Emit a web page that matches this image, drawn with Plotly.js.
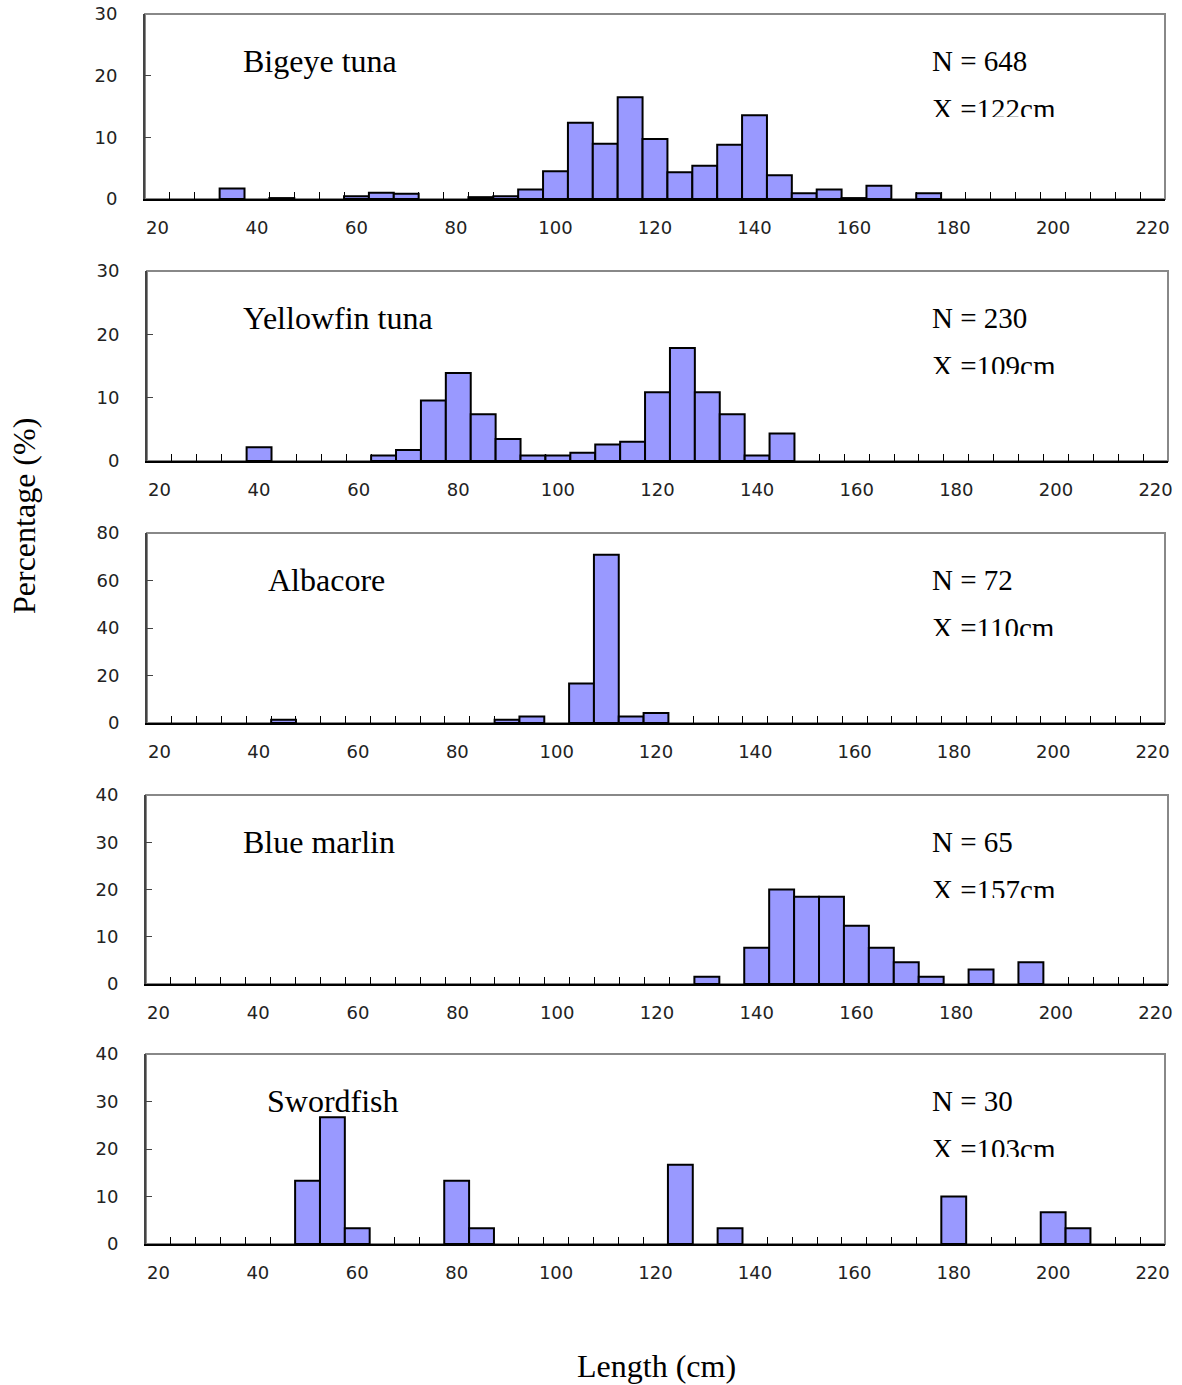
<!DOCTYPE html>
<html>
<head>
<meta charset="utf-8">
<script src="https://cdn.plot.ly/plotly-3.0.1.min.js"></script>
<style>html,body{margin:0;padding:0;background:#fff;}#chart{width:1182px;height:1385px;}</style>
</head>
<body>
<div id="chart"></div>
<script>
// ---------- data (length class in cm, percentage) ----------
const bigeyeLen = [35,45,60,65,70,85,90,95,100,105,110,115,120,125,130,135,140,145,150,155,160,165,175];
const bigeyePct = [1.7,0.15,0.46,1.0,0.86,0.3,0.46,1.54,4.48,12.35,8.95,16.5,9.72,4.32,5.4,8.8,13.6,3.86,0.93,1.54,0.15,2.16,0.93];

const yellowfinLen = [40,65,70,75,80,85,90,95,100,105,110,115,120,125,130,135,140,145];
const yellowfinPct = [2.17,0.87,1.74,9.57,13.9,7.39,3.48,0.87,0.87,1.3,2.61,3.04,10.87,17.83,10.87,7.39,0.87,4.35];

const albacoreLen = [45,90,95,105,110,115,120];
const albacorePct = [1.39,1.39,2.78,16.67,70.83,2.78,4.17];

const marlinLen = [130,140,145,150,155,160,165,170,175,185,195];
const marlinPct = [1.54,7.69,20.0,18.46,18.46,12.31,7.69,4.62,1.54,3.08,4.62];

const swordLen = [50,55,60,80,85,125,135,180,200,205];
const swordPct = [13.33,26.67,3.33,13.33,3.33,16.67,3.33,10.0,6.67,3.33];

const speciesNames = ["Bigeye tuna","Yellowfin tuna","Albacore","Blue marlin","Swordfish"];
const sampleN = [648,230,72,65,30];
const meanLen = [122,109,110,157,103];
const yMax = [30,30,80,40,40];
const yStep = [10,10,20,10,10];
const xTickVals = [20,40,60,80,100,120,140,160,180,200,220];
const xTickText = ["20","40","60","80","100","120","140","160","180","200","220"];
const xAxisTitle = "Length (cm)";
const yAxisTitle = "Percentage (%)";

// ---------- layout helpers ----------
const W = 1182, H = 1385;
const px = x => x / W;
const py = y => 1 - y / H;
// panel boxes in pixels: [left, right, top, bottom]
const boxes = [
  [145,1165,14,199],
  [147,1168,271,461],
  [147,1165,533,723],
  [146,1168,795,984],
  [146,1165,1054,1244]
];
const nameX = [241,241,266,241,265];

const lens = [bigeyeLen, yellowfinLen, albacoreLen, marlinLen, swordLen];
const pcts = [bigeyePct, yellowfinPct, albacorePct, marlinPct, swordPct];

const minorVals = [];
for (let v = 22.5; v < 220; v += 5) minorVals.push(v);

const tickFont = {family: "DejaVu Sans, sans-serif", size: 18, color: "#222"};
const serif = "Liberation Serif, Times New Roman, serif";

const data = [];
const layout = {
  width: W, height: H,
  margin: {l:0, r:0, t:0, b:0},
  paper_bgcolor: "#fff", plot_bgcolor: "#fff",
  showlegend: false,
  shapes: [], annotations: []
};

for (let i = 0; i < 5; i++) {
  const s = i === 0 ? "" : String(i + 1);
  const b = boxes[i];
  data.push({
    type: "bar",
    x: lens[i], y: pcts[i],
    width: 5,
    xaxis: "x" + s, yaxis: "y" + s,
    marker: {color: "#9999FF", line: {color: "#000", width: 2}},
    hoverinfo: "x+y"
  });
  layout["xaxis" + s] = {
    domain: [px(b[0]), px(b[1])],
    anchor: "y" + s,
    range: [17.5, 222.5],
    tickmode: "array", tickvals: xTickVals, ticktext: xTickText,
    ticks: "",
    minor: {tickmode: "array", tickvals: minorVals, ticks: "inside", ticklen: 7, tickwidth: 1, tickcolor: "#000"},
    showline: true, linecolor: "#000", linewidth: 2,
    showgrid: false, zeroline: false,
    tickfont: tickFont,
    ticklabelstandoff: 11,
    fixedrange: true
  };
  const yv = [];
  for (let v = 0; v <= yMax[i]; v += yStep[i]) yv.push(v);
  layout["yaxis" + s] = {
    domain: [py(b[3]), py(b[2])],
    anchor: "x" + s,
    range: [0, yMax[i]],
    tickmode: "array", tickvals: yv,
    ticks: "inside", ticklen: 6, tickwidth: 1, tickcolor: "#444",
    showline: true, linecolor: "#444", linewidth: 2,
    showgrid: false, zeroline: false,
    tickfont: tickFont,
    ticklabelstandoff: 22,
    fixedrange: true
  };
  // gray frame (top/right)
  layout.shapes.push({
    type: "rect", xref: "x" + s + " domain", yref: "y" + s + " domain",
    x0: 0, x1: 1, y0: 0, y1: 1,
    line: {color: "#888", width: 2}, layer: "below"
  });
  // species name
  layout.annotations.push({
    xref: "paper", yref: "paper",
    x: px(nameX[i]), y: py(b[2] + 47),
    xanchor: "left", yanchor: "middle",
    text: speciesNames[i], showarrow: false,
    font: {family: serif, size: 32, color: "#000"}
  });
  // N
  layout.annotations.push({
    xref: "paper", yref: "paper",
    x: px(930), y: py(b[2] + 47),
    xanchor: "left", yanchor: "middle",
    text: "N = " + sampleN[i], showarrow: false,
    font: {family: serif, size: 29, color: "#000"}
  });
  // mean (clipped at the bottom like the original text box)
  layout.annotations.push({
    xref: "paper", yref: "paper",
    x: px(930), y: py(b[2] + 77),
    xanchor: "left", yanchor: "top",
    height: 24, valign: "top",
    text: "X =" + meanLen[i] + "cm", showarrow: false,
    font: {family: serif, size: 29, color: "#000"}
  });
}

layout.annotations.push({
  xref: "paper", yref: "paper",
  x: px(656), y: py(1366),
  xanchor: "center", yanchor: "middle",
  text: xAxisTitle, showarrow: false,
  font: {family: serif, size: 32, color: "#000"}
});
layout.annotations.push({
  xref: "paper", yref: "paper",
  x: px(24), y: py(516),
  xanchor: "center", yanchor: "middle",
  textangle: -90,
  text: yAxisTitle, showarrow: false,
  font: {family: serif, size: 32, color: "#000"}
});

Plotly.newPlot("chart", data, layout, {staticPlot: true, displayModeBar: false});
</script>
</body>
</html>
